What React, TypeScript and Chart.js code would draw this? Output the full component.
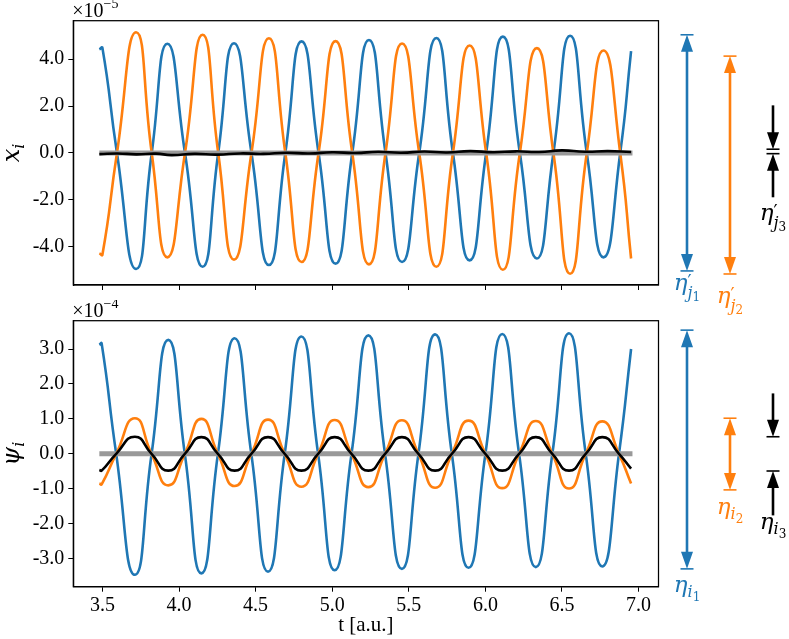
import React, { useEffect, useRef } from 'react';
import { Chart, registerables } from 'chart.js';

Chart.register(...registerables);

// ---------- data ----------
const X_TICKS = [3.5, 4.0, 4.5, 5.0, 5.5, 6.0, 6.5, 7.0];
const X_MIN = 3.31;
const X_MAX = 7.13;

const TOP_Y_TICKS = [-4, -2, 0, 2, 4];
const TOP_Y_MIN = -5.63;
const TOP_Y_MAX = 5.64;
const BOT_Y_TICKS = [-3, -2, -1, 0, 1, 2, 3];
const BOT_Y_MIN = -3.8;
const BOT_Y_MAX = 3.81;

// top panel: x_i (x 1e-5)
const topT = [3.480, 3.500, 3.595, 3.720, 3.822, 3.924, 4.039, 4.154, 4.256, 4.359, 4.473, 4.587, 4.694, 4.800, 4.911, 5.022, 5.131, 5.240, 5.348, 5.456, 5.568, 5.680, 5.788, 5.897, 6.005, 6.114, 6.225, 6.336, 6.444, 6.553, 6.662, 6.771, 6.880, 6.951];
const topBlue = [4.42, 4.48, 0, -4.95, 0, 4.66, 0, -4.85, 0, 4.68, 0, -4.78, 0, 4.76, 0, -4.72, 0, 4.82, 0, -4.65, 0, 4.90, 0, -4.58, 0, 4.96, 0, -4.50, 0, 5.00, 0, -4.45, 0, 4.34];
const topOrange = [-4.28, -4.34, 0, 5.15, 0, -4.45, 0, 5.04, 0, -4.55, 0, 4.89, 0, -4.65, 0, 4.77, 0, -4.75, 0, 4.67, 0, -4.85, 0, 4.58, 0, -4.98, 0, 4.47, 0, -5.15, 0, 4.37, 0, -4.50];
const topBlackT = [3.48, 3.60, 3.72, 3.85, 3.95, 4.10, 4.25, 4.40, 4.55, 4.70, 4.85, 5.00, 5.15, 5.30, 5.45, 5.60, 5.75, 5.90, 6.05, 6.20, 6.35, 6.50, 6.65, 6.80, 6.951];
const topBlack = [-0.05, -0.02, -0.06, -0.03, -0.09, -0.04, -0.07, -0.02, -0.04, 0.01, -0.02, 0.03, 0.0, 0.05, 0.01, 0.06, 0.02, 0.08, 0.03, 0.07, 0.04, 0.11, 0.05, 0.08, 0.04];

// bottom panel: psi_i (x 1e-4)
const botT = [3.480, 3.495, 3.590, 3.712, 3.821, 3.930, 4.038, 4.146, 4.254, 4.363, 4.472, 4.581, 4.690, 4.799, 4.908, 5.016, 5.126, 5.236, 5.345, 5.455, 5.563, 5.672, 5.781, 5.890, 6.000, 6.110, 6.220, 6.329, 6.437, 6.546, 6.655, 6.763, 6.872, 6.951];
const botBlue = [3.12, 3.16, 0, -3.46, 0, 3.26, 0, -3.42, 0, 3.31, 0, -3.37, 0, 3.36, 0, -3.33, 0, 3.39, 0, -3.29, 0, 3.42, 0, -3.26, 0, 3.43, 0, -3.24, 0, 3.45, 0, -3.22, 0, 3.00];
const botOrange = [-0.85, -0.87, 0, 1.02, 0, -0.90, 0, 1.00, 0, -0.92, 0, 0.98, 0, -0.94, 0, 0.97, 0, -0.95, 0, 0.96, 0, -0.97, 0, 0.95, 0, -0.98, 0, 0.94, 0, -0.99, 0, 0.93, 0, -0.85];
const botBlack = [-0.46, -0.48, 0, 0.49, 0, -0.48, 0, 0.48, 0, -0.48, 0, 0.48, 0, -0.48, 0, 0.48, 0, -0.48, 0, 0.48, 0, -0.48, 0, 0.48, 0, -0.48, 0, 0.48, 0, -0.48, 0, 0.48, 0, -0.42];

const zeroT = [3.48, 6.96];
const zeroV = [0, 0];

// amplitude markers (data units of each panel)
const topBlueRange = [5.04, -5.03];
const topOrangeRange = [4.13, -5.16];
const topBlackIn = [2.03, 0.16, -1.89, -0.03];
const botBlueRange = [3.54, -3.29];
const botOrangeRange = [1.02, -1.03];
const botBlackIn = [1.73, 0.49, -1.76, -0.49];

const BLUE = '#1f77b4';
const ORANGE = '#ff7f0e';
const GRAY = '#999999';
const SERIF = '"Liberation Serif", "DejaVu Serif", serif';
const MATH = '"DejaVu Serif", "Liberation Serif", serif';

// ---------- text helpers ----------
type Seg = { t: string; size: number; dy?: number; it?: boolean; stack?: boolean; m?: boolean };

function segFont(s: Seg) {
  return `${s.it ? 'italic ' : ''}${s.size}px ${s.m ? MATH : SERIF}`;
}

function drawSegs(ctx: CanvasRenderingContext2D, segs: Seg[], x: number, y: number, align: 'left' | 'center', color: string) {
  let cur = 0;
  let prevStart = 0;
  const pos: number[] = [];
  for (const s of segs) {
    ctx.font = segFont(s);
    const w = ctx.measureText(s.t).width;
    const sx = s.stack ? prevStart : cur;
    pos.push(sx);
    prevStart = sx;
    cur = Math.max(cur, sx + w);
  }
  const x0 = align === 'center' ? x - cur / 2 : x;
  ctx.fillStyle = color;
  ctx.textAlign = 'left';
  ctx.textBaseline = 'alphabetic';
  segs.forEach((s, i) => {
    ctx.font = segFont(s);
    ctx.fillText(s.t, x0 + pos[i], y + (s.dy || 0));
  });
}

function etaSegs(primed: boolean, sub: string, n: string): Seg[] {
  const segs: Seg[] = [{ t: 'η', size: 23, it: true, m: true }];
  if (primed) {
    segs.push({ t: '′', size: 18, dy: -2, m: true });
    segs.push({ t: sub, size: 16, it: true, dy: 8, stack: true, m: true });
  } else {
    segs.push({ t: sub, size: 16, it: true, dy: 5, m: true });
  }
  segs.push({ t: n, size: 12, dy: primed ? 11 : 9, m: true });
  return segs;
}

// ---------- arrow helpers ----------
const HEAD_L = 17;
const HEAD_W = 12;
const BAR_W = 13;

function head(ctx: CanvasRenderingContext2D, x: number, tip: number, dir: number, color: string) {
  ctx.fillStyle = color;
  ctx.beginPath();
  ctx.moveTo(x, tip);
  ctx.lineTo(x - HEAD_W / 2, tip - dir * HEAD_L);
  ctx.lineTo(x + HEAD_W / 2, tip - dir * HEAD_L);
  ctx.closePath();
  ctx.fill();
}

function bar(ctx: CanvasRenderingContext2D, x: number, y: number, color: string) {
  ctx.strokeStyle = color;
  ctx.lineWidth = 1.6;
  ctx.beginPath();
  ctx.moveTo(x - BAR_W / 2, y);
  ctx.lineTo(x + BAR_W / 2, y);
  ctx.stroke();
}

function shaft(ctx: CanvasRenderingContext2D, x: number, y1: number, y2: number, color: string) {
  ctx.strokeStyle = color;
  ctx.lineWidth = 2.6;
  ctx.lineCap = 'butt';
  ctx.beginPath();
  ctx.moveTo(x, y1);
  ctx.lineTo(x, y2);
  ctx.stroke();
}

function doubleArrow(ctx: CanvasRenderingContext2D, x: number, yTop: number, yBot: number, color: string) {
  shaft(ctx, x, yTop + HEAD_L - 1, yBot - HEAD_L + 1, color);
  head(ctx, x, yTop, -1, color);
  head(ctx, x, yBot, 1, color);
  bar(ctx, x, yTop, color);
  bar(ctx, x, yBot, color);
}

function inArrow(ctx: CanvasRenderingContext2D, x: number, yTail: number, yTip: number, color: string) {
  const dir = yTip > yTail ? 1 : -1;
  shaft(ctx, x, yTail, yTip - dir * (HEAD_L - 1), color);
  head(ctx, x, yTip, dir, color);
  bar(ctx, x, yTip, color);
}

// ---------- panel decoration plugin ----------
type PanelSpec = {
  id: string;
  ySym: Seg[];
  exp: string;
  blueRange: number[];
  orangeRange: number[];
  blackIn: number[];
  primed: boolean;
  sub: string;
  xTitle: boolean;
  labelDy: number[];
};

function panelPlugin(spec: PanelSpec) {
  return {
    id: spec.id,
    afterDraw(chart: any) {
      const ctx: CanvasRenderingContext2D = chart.ctx;
      const { left, right, top, bottom } = chart.chartArea;
      const ys = chart.scales.y;
      ctx.save();
      ctx.strokeStyle = '#000';
      ctx.lineWidth = 1.25;
      ctx.strokeRect(left, top, right - left, bottom - top);

      ctx.save();
      ctx.translate(19, (top + bottom) / 2);
      ctx.rotate(-Math.PI / 2);
      drawSegs(ctx, spec.ySym, 0, 0, 'center', '#000');
      ctx.restore();

      drawSegs(ctx, [{ t: '×10', size: 20 }, { t: '−' + spec.exp, size: 14, dy: -9 }], left - 1, top - 4, 'left', '#000');

      const xb = right + 28.5;
      const xo = right + 71.5;
      const xk = right + 114.5;
      const p = (v: number) => ys.getPixelForValue(v);

      doubleArrow(ctx, xb, p(spec.blueRange[0]), p(spec.blueRange[1]), BLUE);
      doubleArrow(ctx, xo, p(spec.orangeRange[0]), p(spec.orangeRange[1]), ORANGE);
      inArrow(ctx, xk, p(spec.blackIn[0]), p(spec.blackIn[1]), '#000');
      inArrow(ctx, xk, p(spec.blackIn[2]), p(spec.blackIn[3]), '#000');

      const s = spec.sub;
      drawSegs(ctx, etaSegs(spec.primed, s, '1'), xb, bottom + spec.labelDy[0], 'center', BLUE);
      const yo = spec.primed ? bottom + spec.labelDy[1] : p(spec.orangeRange[1]) + spec.labelDy[1];
      drawSegs(ctx, etaSegs(spec.primed, s, '2'), xo, yo, 'center', ORANGE);
      drawSegs(ctx, etaSegs(spec.primed, s, '3'), xk, p(spec.blackIn[2]) + spec.labelDy[2], 'center', '#000');

      if (spec.xTitle) {
        ctx.font = `21px ${SERIF}`;
        ctx.fillStyle = '#000';
        ctx.textAlign = 'center';
        ctx.textBaseline = 'alphabetic';
        ctx.fillText('t [a.u.]', (left + right) / 2, chart.height - 8);
      }
      ctx.restore();
    },
  };
}

function pts(t: number[], v: number[]) {
  return t.map((x, i) => ({ x, y: v[i] }));
}

function ds(data: any[], color: string, width: number, order: number) {
  return {
    data,
    borderColor: color,
    backgroundColor: color,
    borderWidth: width,
    pointRadius: 0,
    tension: 0.55,
    fill: false,
    order,
    borderCapStyle: 'butt',
  };
}

function makeConfig(which: 'top' | 'bottom'): any {
  const isTop = which === 'top';
  const datasets = isTop
    ? [
        ds(pts(topBlackT, topBlack), '#000', 2.6, 0),
        ds(pts(zeroT, zeroV), GRAY, 5, 1),
        ds(pts(topT, topOrange), ORANGE, 2.6, 2),
        ds(pts(topT, topBlue), BLUE, 2.6, 3),
      ]
    : [
        ds(pts(botT, botBlack), '#000', 2.6, 0),
        ds(pts(zeroT, zeroV), GRAY, 5, 1),
        ds(pts(botT, botOrange), ORANGE, 2.6, 2),
        ds(pts(botT, botBlue), BLUE, 2.6, 3),
      ];
  const yTicks = isTop ? TOP_Y_TICKS : BOT_Y_TICKS;
  const spec: PanelSpec = isTop
    ? {
        id: 'decoTop',
        ySym: [{ t: 'x', size: 24, it: true, m: true }, { t: 'i', size: 16, it: true, dy: 5, m: true }],
        exp: '5',
        blueRange: topBlueRange,
        orangeRange: topOrangeRange,
        blackIn: topBlackIn,
        primed: true,
        sub: 'j',
        xTitle: false,
        labelDy: [5, 18, 23],
      }
    : {
        id: 'decoBottom',
        ySym: [{ t: 'ψ', size: 24, it: true, m: true }, { t: 'i', size: 16, it: true, dy: 5, m: true }],
        exp: '4',
        blueRange: botBlueRange,
        orangeRange: botOrangeRange,
        blackIn: botBlackIn,
        primed: false,
        sub: 'i',
        xTitle: true,
        labelDy: [5, 24, 14],
      };
  const font = { family: SERIF, size: 20 };
  return {
    type: 'line',
    data: { datasets },
    options: {
      responsive: false,
      animation: false,
      events: [],
      layout: { padding: { left: 0, right: 130.5, top: 20.7, bottom: 0 } },
      plugins: { legend: { display: false }, tooltip: { enabled: false } },
      scales: {
        x: {
          type: 'linear',
          min: X_MIN,
          max: X_MAX,
          afterBuildTicks: (s: any) => {
            s.ticks = X_TICKS.map((v) => ({ value: v }));
          },
          afterFit: (s: any) => {
            s.height = isTop ? 35 : 52.3;
          },
          ticks: {
            display: !isTop,
            autoSkip: false,
            maxRotation: 0,
            minRotation: 0,
            padding: 2,
            color: '#000',
            font,
            callback: (v: any) => Number(v).toFixed(1),
          },
          grid: { display: true, drawOnChartArea: false, drawTicks: true, tickLength: 5, color: '#000', lineWidth: 1 },
          border: { display: true, color: '#000', width: 1.25 },
        },
        y: {
          type: 'linear',
          min: isTop ? TOP_Y_MIN : BOT_Y_MIN,
          max: isTop ? TOP_Y_MAX : BOT_Y_MAX,
          afterBuildTicks: (s: any) => {
            s.ticks = yTicks.map((v) => ({ value: v }));
          },
          afterFit: (s: any) => {
            s.width = 73.3;
          },
          ticks: {
            autoSkip: false,
            padding: 4,
            color: '#000',
            font,
            callback: (v: any) => Number(v).toFixed(1),
          },
          grid: { display: true, drawOnChartArea: false, drawTicks: true, tickLength: 5, color: '#000', lineWidth: 1 },
          border: { display: true, color: '#000', width: 1.25 },
        },
      },
    },
    plugins: [panelPlugin(spec)],
  };
}

export default function App() {
  const topRef = useRef<HTMLCanvasElement>(null);
  const botRef = useRef<HTMLCanvasElement>(null);
  useEffect(() => {
    const c1 = new Chart(topRef.current as HTMLCanvasElement, makeConfig('top'));
    const c2 = new Chart(botRef.current as HTMLCanvasElement, makeConfig('bottom'));
    return () => {
      c1.destroy();
      c2.destroy();
    };
  }, []);
  return (
    <div style={{ position: 'absolute', left: 0, top: 0, width: 789, height: 639, background: '#fff', overflow: 'hidden' }}>
      <canvas ref={topRef} width={789} height={320} style={{ position: 'absolute', left: 0, top: 0, width: 789, height: 320 }} />
      <canvas ref={botRef} width={789} height={339} style={{ position: 'absolute', left: 0, top: 300, width: 789, height: 339 }} />
    </div>
  );
}
